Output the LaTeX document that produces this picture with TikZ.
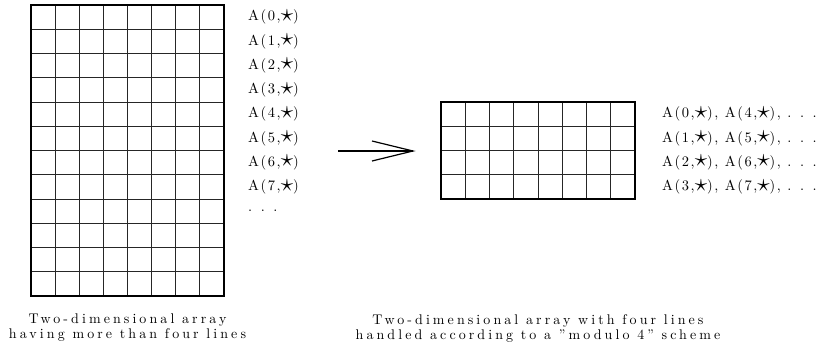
\documentclass[tikz,border=0pt]{standalone}
\usepackage{graphicx}
\usepackage{fontspec}
\setmainfont{lmroman10-regular.otf}
\usetikzlibrary{calc}
\newcommand\capspc{\fontsize{14}{15}\selectfont\addfontfeatures{LetterSpace=22}}
\newcommand\labspc{\fontsize{14.5}{16}\selectfont\addfontfeatures{LetterSpace=11}}
\newcommand\st{\raisebox{-0.6pt}{\scalebox{1.75}{$\star$}}}
\tikzset{
  innerline/.style={line width=0.8pt, black!85},
  outerline/.style={line width=1.4pt, black},
  captext/.style={font=\capspc, align=center, inner sep=0pt},
  labtext/.style={font=\labspc, anchor=west, inner sep=0pt},
}
\begin{document}
\begin{tikzpicture}[x=1pt,y=-1pt]
\useasboundingbox (0,0) rectangle (822,354);
% left grid
\foreach \i in {1,...,7} \draw[innerline] ({31+\i*24.125},5) -- ({31+\i*24.125},296);
\foreach \j in {1,...,11} \draw[innerline] (31,{5+\j*24.25}) -- (224,{5+\j*24.25});
\node[outerline, draw, minimum width=193pt, minimum height=291pt, inner sep=0pt] (L) at (127.5,150.5) {};
% right grid
\foreach \i in {1,...,7} \draw[innerline] ({441+\i*24.25},102) -- ({441+\i*24.25},199);
\foreach \j in {1,...,3} \draw[innerline] (441,{102+\j*24.25}) -- (635,{102+\j*24.25});
\node[outerline, draw, minimum width=194pt, minimum height=97pt, inner sep=0pt] (R) at (538,150.5) {};
% left labels
\foreach \k in {0,...,7} \node[labtext] (l\k) at (248,{5+(\k+0.5)*24.25}) {A(\k,\st)};
\node[labtext] (ldots) at (248,211) {. . .};
% right labels
\foreach \k [evaluate=\k as \m using int(\k+4)] in {0,...,3}
  \node[labtext] (r\k) at (662,{102+(\k+0.5)*24.25}) {A(\k,\st), A(\m,\st), . . .};
% arrow
\coordinate (a1) at (338,151);
\coordinate (a2) at (413,151);
\draw[line width=1.2pt] (a1) -- (a2);
\draw[line width=1.2pt] ($(a2)+(-41,-10)$) -- (a2) -- ($(a2)+(-41,10)$);
% captions
\node[captext] (cl) at (L.south |- 0,328) {Two-dimensional array\\having more than four lines};
\node[captext] (cr) at (R.south |- 0,328) {Two-dimensional array with four lines\\handled according to a ''modulo 4'' scheme};
\end{tikzpicture}
\end{document}
